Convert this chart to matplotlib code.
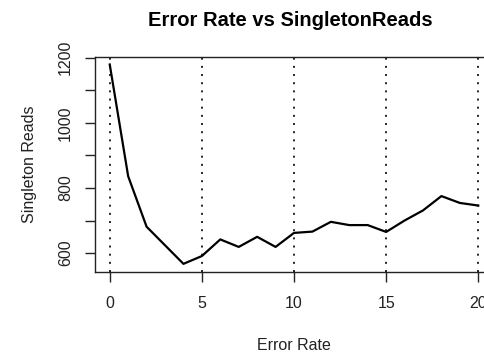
import numpy as np
import matplotlib.pyplot as plt

plt.rcParams['font.family'] = ['Liberation Sans', 'DejaVu Sans']

# Error rate vs singleton reads
error_rate = list(range(0, 21))
singleton_reads = [1179, 836, 681, 624, 567, 591, 642, 619, 650, 619, 662,
                   666, 696, 686, 686, 665, 700, 731, 775, 754, 746]
grid_x = [0, 5, 10, 15, 20]
y_ticks = [600, 700, 800, 900, 1000, 1100, 1200]
y_tick_labels = ['600', '', '800', '', '1000', '', '1200']
x_ticks = [0, 5, 10, 15, 20]

fig = plt.figure(figsize=(4.85, 3.52), dpi=100)
# axes run a little past the right edge, like the cropped original
ax = fig.add_axes([95 / 485, 80 / 352, 398 / 485, 215 / 352])

for gx in grid_x:
    ax.axvline(gx, color='#222222', lw=1.4, linestyle=(0, (1, 3.2)), zorder=1)

ax.plot(error_rate, singleton_reads, color='black', lw=1.6, zorder=2)

ax.set_xlim(-0.8, 20.8)
ax.set_ylim(542, 1202)
ax.set_xticks(x_ticks)
ax.set_yticks(y_ticks)
ax.set_yticklabels(y_tick_labels, rotation=90, va='center')

for s in ax.spines.values():
    s.set_linewidth(1.0)
    s.set_color('#222222')

ax.tick_params(axis='both', direction='out', length=7, width=1.0,
               colors='#222222', labelsize=11.5, labelcolor='#222222')
ax.tick_params(axis='x', pad=10)
ax.tick_params(axis='y', pad=9)

ax.set_xlabel('Error Rate', fontsize=11.5, labelpad=20, color='#222222')
ax.set_ylabel('Singleton Reads', fontsize=11.5, labelpad=15, color='#222222')
ax.set_title('Error Rate vs SingletonReads', fontsize=14.5, fontweight='bold',
             pad=22, x=0.49)

fig.savefig('out.png', dpi=100)
